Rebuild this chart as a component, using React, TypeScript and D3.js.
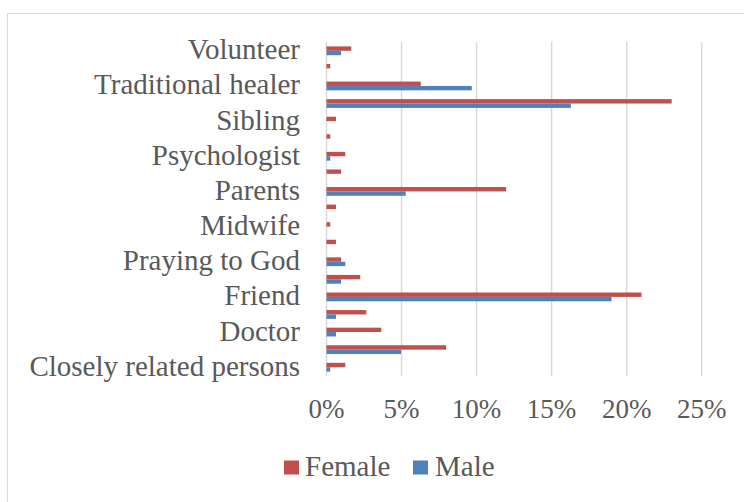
import React from "react";
import * as d3 from "d3";

const categories = [
  "Volunteer",
  "Unknown",
  "Traditional healer",
  "Spouse",
  "Sibling",
  "Religious leader",
  "Psychologist",
  "Partner",
  "Parents",
  "Nurse",
  "Midwife",
  "Husband",
  "Praying to God",
  "Health worker",
  "Friend",
  "Family member",
  "Doctor",
  "Counselor",
  "Closely related persons",
];
const shownLabels = [
  "Volunteer",
  "Traditional healer",
  "Sibling",
  "Psychologist",
  "Parents",
  "Midwife",
  "Praying to God",
  "Friend",
  "Doctor",
  "Closely related persons",
];
const female = [1.65, 0.25, 6.28, 23.0, 0.63, 0.25, 1.25, 0.97, 11.97, 0.63, 0.25, 0.63, 0.97, 2.25, 20.99, 2.65, 3.65, 7.97, 1.25];
const male = [0.97, 0, 9.68, 16.28, 0, 0, 0.25, 0, 5.28, 0, 0, 0, 1.25, 0.97, 18.99, 0.63, 0.63, 4.97, 0.25];
const xTicks = [0, 5, 10, 15, 20, 25];
const seriesNames = ["Female", "Male"];
const seriesColors = ["#c0504d", "#4f81bd"];

export default function App() {
  const W = 744;
  const H = 502;
  const x = d3.scaleLinear().domain([0, 25]).range([326.5, 701.7]);
  const y = d3.scaleBand<string>().domain(categories).range([42, 376]).padding(0);
  const barH = 4.4;
  const font = "Liberation Serif";
  const textColor = "#595959";
  const grid = "#d9d9d9";

  return (
    <div style={{ position: "absolute", left: 0, top: 0 }}>
      <svg width={W} height={H} style={{ display: "block", background: "#fff" }}>
        <rect x={7.5} y={13.5} width={800} height={600} fill="#fff" stroke={grid} strokeWidth={1} />
        {xTicks.map((t) => (
          <line key={"g" + t} x1={x(t)} x2={x(t)} y1={42} y2={376} stroke={grid} strokeWidth={1.5} />
        ))}
        {categories.map((c, i) => {
          const cy = (y(c) as number) + y.bandwidth() / 2;
          return (
            <g key={c}>
              {female[i] > 0 && (
                <rect x={x(0)} y={cy - barH} width={x(female[i]) - x(0)} height={barH} fill={seriesColors[0]} />
              )}
              {male[i] > 0 && (
                <rect x={x(0)} y={cy} width={x(male[i]) - x(0)} height={barH} fill={seriesColors[1]} />
              )}
            </g>
          );
        })}
        {categories.map((c) =>
          shownLabels.includes(c) ? (
            <text
              key={"l" + c}
              x={300}
              y={(y(c) as number) + y.bandwidth() / 2 + 8.5}
              textAnchor="end"
              fontFamily={font}
              fontSize={29}
              fill={textColor}
            >
              {c}
            </text>
          ) : null
        )}
        {xTicks.map((t) => (
          <text key={"t" + t} x={x(t)} y={418} textAnchor="middle" fontFamily={font} fontSize={27} fill={textColor}>
            {t + "%"}
          </text>
        ))}
        <rect x={284} y={460.5} width={15} height={14} fill={seriesColors[0]} />
        <text x={305} y={476} fontFamily={font} fontSize={29} fill={textColor}>
          {seriesNames[0]}
        </text>
        <rect x={413} y={460.5} width={15} height={14} fill={seriesColors[1]} />
        <text x={435} y={476} fontFamily={font} fontSize={29} fill={textColor}>
          {seriesNames[1]}
        </text>
      </svg>
    </div>
  );
}
